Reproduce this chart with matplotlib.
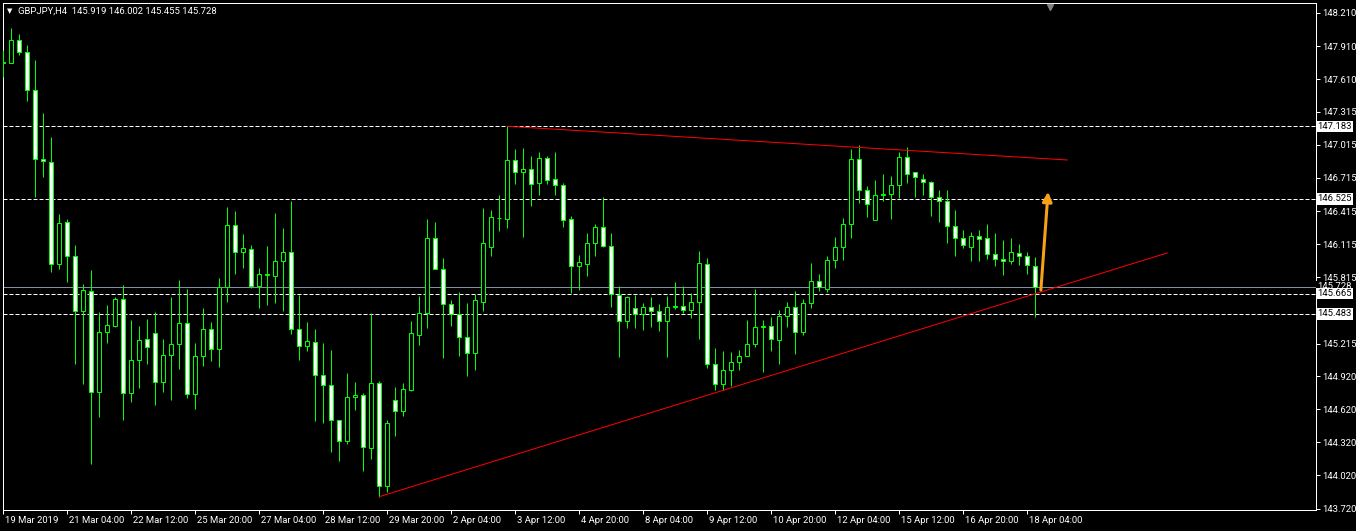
import matplotlib
matplotlib.use('Agg')
import matplotlib.pyplot as plt
import matplotlib.transforms as mtransforms

plt.rcParams['font.family'] = ['Roboto', 'DejaVu Sans']

# GBPJPY H4 candles
opens = [147.766, 147.760, 147.963, 147.854, 147.510, 146.885, 146.857, 145.940, 146.316, 146.006,
         145.507, 145.689, 144.773, 145.317, 145.377, 145.616, 144.764, 145.063, 145.254, 145.308,
         144.864, 145.109, 145.208, 145.399, 144.755, 145.100, 145.344, 145.163, 145.725, 146.287,
         146.042, 146.069, 145.739, 145.832, 145.830, 145.960, 146.042, 145.344, 145.190, 145.226,
         144.927, 144.837, 144.520, 144.329, 144.728, 144.746, 144.266, 144.855, 143.922, 144.701,
         144.601, 144.797, 145.295, 145.489, 146.169, 145.893, 145.576, 145.480, 145.272, 145.132,
         145.594, 146.093, 146.350, 146.346, 146.876, 146.767, 146.794, 146.673, 146.894, 146.703,
         146.649, 146.341, 145.915, 145.939, 146.123, 146.268, 146.096, 145.652, 145.417, 145.535,
         145.480, 145.544, 145.507, 145.417, 145.544, 145.553, 145.516, 145.589, 145.933, 145.027,
         144.846, 144.973, 145.045, 145.100, 145.208, 145.362, 145.371, 145.245, 145.462, 145.544,
         145.317, 145.580, 145.779, 145.707, 145.969, 146.087, 146.296, 146.885, 146.604, 146.332,
         146.559, 146.568, 146.649, 146.903, 146.767, 146.703, 146.676, 146.540, 146.504, 146.278,
         146.169, 146.087, 146.187, 146.169, 146.024, 145.979, 145.960, 146.033, 146.006, 145.919]
highs = [147.875, 148.074, 148.020, 147.920, 147.784, 147.304, 147.087, 146.389, 146.344, 146.108,
         145.755, 145.882, 145.501, 145.564, 145.634, 145.746, 145.428, 145.374, 145.437, 145.501,
         145.256, 145.637, 145.791, 145.709, 145.220, 145.537, 145.410, 145.809, 146.452, 146.416,
         146.208, 146.108, 145.900, 146.099, 146.398, 146.262, 146.507, 145.652, 145.410, 145.347,
         145.220, 145.157, 144.522, 144.948, 144.867, 144.764, 145.489, 144.873, 144.522, 144.821,
         144.858, 145.419, 145.646, 146.344, 146.316, 145.990, 145.607, 145.679, 145.583, 145.661,
         146.443, 146.423, 146.561, 147.183, 146.978, 146.987, 146.915, 146.951, 146.915, 146.951,
         146.670, 146.371, 146.017, 146.214, 146.296, 146.543, 146.214, 145.734, 145.643, 145.652,
         145.583, 145.634, 145.571, 145.643, 145.770, 145.734, 145.670, 146.054, 145.988, 145.172,
         145.145, 145.136, 145.154, 145.426, 145.707, 145.426, 145.453, 145.516, 145.589, 145.689,
         145.616, 145.942, 145.843, 146.006, 146.178, 146.350, 146.975, 147.011, 146.640, 146.694,
         146.749, 146.731, 146.948, 146.993, 146.767, 146.749, 146.685, 146.604, 146.604, 146.423,
         146.241, 146.223, 146.241, 146.296, 146.214, 146.151, 146.169, 146.114, 146.042, 146.002]
lows = [147.633, 147.754, 147.832, 147.416, 146.546, 146.727, 145.866, 145.888, 145.776, 145.033,
        144.851, 144.126, 144.552, 145.223, 145.368, 144.525, 144.688, 144.815, 145.033, 144.661,
        144.779, 144.706, 144.987, 144.724, 144.625, 145.014, 145.060, 145.005, 145.594, 145.848,
        145.902, 145.721, 145.540, 145.567, 145.585, 145.513, 145.299, 145.069, 145.148, 144.516,
        144.498, 144.232, 144.154, 144.305, 144.610, 144.063, 144.166, 143.827, 143.873, 144.380,
        144.561, 144.785, 145.202, 145.359, 145.891, 145.084, 145.377, 145.105, 144.924, 144.976,
        145.513, 146.011, 146.238, 146.265, 146.661, 146.181, 146.461, 146.561, 146.661, 146.561,
        146.274, 145.676, 145.703, 145.830, 146.011, 146.094, 145.549, 145.096, 145.359, 145.359,
        145.341, 145.368, 145.332, 145.096, 145.531, 145.489, 145.449, 145.259, 144.991, 144.797,
        144.792, 144.833, 144.973, 145.100, 145.181, 144.955, 145.145, 145.027, 145.362, 145.118,
        145.290, 145.535, 145.689, 145.680, 145.897, 145.975, 146.169, 146.486, 146.359, 146.332,
        146.504, 146.346, 146.531, 146.673, 146.543, 146.558, 146.368, 146.314, 146.123, 146.006,
        146.078, 145.960, 145.966, 145.979, 145.915, 145.834, 145.933, 145.924, 145.843, 145.455]
closes = [147.757, 147.963, 147.854, 147.510, 146.885, 146.866, 145.940, 146.307, 146.006, 145.507,
          145.698, 144.773, 145.317, 145.380, 145.616, 144.764, 145.063, 145.245, 145.181, 144.864,
          145.109, 145.208, 145.399, 144.755, 145.100, 145.344, 145.163, 145.725, 146.287, 146.042,
          146.078, 145.739, 145.843, 145.841, 145.960, 146.042, 145.344, 145.190, 145.235, 144.927,
          144.837, 144.520, 144.329, 144.728, 144.746, 144.275, 144.855, 143.922, 144.492, 144.601,
          144.801, 145.308, 145.489, 146.169, 145.893, 145.576, 145.480, 145.272, 145.132, 145.607,
          146.123, 146.359, 146.355, 146.876, 146.767, 146.797, 146.658, 146.894, 146.700, 146.649,
          146.337, 145.915, 145.951, 146.123, 146.268, 146.096, 145.661, 145.417, 145.634, 145.480,
          145.544, 145.507, 145.417, 145.544, 145.553, 145.516, 145.589, 145.942, 145.027, 144.846,
          144.973, 145.045, 145.100, 145.208, 145.362, 145.371, 145.254, 145.462, 145.544, 145.317,
          145.580, 145.779, 145.725, 145.969, 146.087, 146.296, 146.885, 146.604, 146.477, 146.559,
          146.568, 146.649, 146.903, 146.754, 146.721, 146.676, 146.540, 146.504, 146.278, 146.169,
          146.105, 146.187, 146.160, 146.024, 145.979, 145.960, 146.042, 146.006, 145.924, 145.728]

time_labels = ['19 Mar 2019', '21 Mar 04:00', '22 Mar 12:00', '25 Mar 20:00', '27 Mar 04:00',
               '28 Mar 12:00', '29 Mar 20:00', '2 Apr 04:00', '3 Apr 12:00', '4 Apr 20:00',
               '8 Apr 04:00', '9 Apr 12:00', '10 Apr 20:00', '12 Apr 04:00', '15 Apr 12:00',
               '16 Apr 20:00', '18 Apr 04:00']
price_ticks = [148.210, 147.910, 147.610, 147.315, 147.015, 146.715, 146.415, 146.115,
               145.815, 145.215, 144.920, 144.620, 144.320, 144.020, 143.720]
levels = [147.183, 146.525, 145.665, 145.483]
bid = 145.728

# trend lines (bar index, price)
upper_line = ([63, 133], [147.183, 146.878])
lower_line = ([47, 145.5], [143.827, 146.036])
arrow_from = (129.7, 145.70)
arrow_to = (130.6, 146.59)

GREEN = '#00ff00'
PX = 0.72  # one pixel in points

fig = plt.figure(figsize=(13.56, 5.31), dpi=100, facecolor='black')
ax = fig.add_axes([2.5 / 1356, 1 - 509.5 / 531, 1313 / 1356, 507 / 531])
ax.set_facecolor('black')

n = len(opens)
xs = list(range(n))
ax.vlines(xs, lows, highs, colors=GREEN, lw=PX, zorder=3)
bottoms = [min(o, c) for o, c in zip(opens, closes)]
heights = [abs(c - o) for o, c in zip(opens, closes)]
faces = ['black' if c > o else 'white' for o, c in zip(opens, closes)]
ax.bar(xs, heights, bottom=bottoms, width=0.5, color=faces, edgecolor=GREEN,
       linewidth=PX, zorder=4)

for lv in levels:
    ax.axhline(lv, color='white', lw=PX, ls=(0, (4, 2)), zorder=2)
ax.axhline(bid, color='#8090a0', lw=PX, zorder=2)

ax.plot(*upper_line, color='red', lw=PX, zorder=5)
ax.plot(*lower_line, color='red', lw=PX, zorder=5)
ax.annotate('', xy=arrow_to, xytext=arrow_from,
            arrowprops=dict(arrowstyle='-|>', color='#f7a01a', lw=2.2,
                            mutation_scale=14, shrinkA=0, shrinkB=0), zorder=6)

# chart shift marker
blend = mtransforms.blended_transform_factory(ax.transData, ax.transAxes)
ax.plot([130.8], [0.991], marker='v', color='#808080', ms=5, transform=blend,
        clip_on=False, zorder=7)

ax.set_xlim(-0.1, 164.03)
ax.set_ylim(143.711, 148.305)

for sp in ax.spines.values():
    sp.set_color('white')
    sp.set_linewidth(PX)

ax.yaxis.tick_right()
ax.set_yticks(price_ticks)
ax.set_yticklabels(['%.3f' % v for v in price_ticks])
ax.tick_params(axis='y', colors='white', length=3, width=PX, pad=2, labelsize=6.8)

ax.set_xticks(list(range(0, 8 * len(time_labels), 8)))
ax.set_xticklabels(time_labels)
ax.tick_params(axis='x', colors='white', length=3, width=PX, pad=2, labelsize=6.8)
shift = mtransforms.ScaledTranslation(2 / 100, 0, fig.dpi_scale_trans)
for lab in ax.get_xticklabels():
    lab.set_horizontalalignment('left')
    lab.set_transform(lab.get_transform() + shift)

# price labels on the right scale
yblend = mtransforms.blended_transform_factory(ax.transAxes, ax.transData)
ax.text(1.0015, bid, '%.3f' % bid, transform=yblend, color='white', fontsize=6.8,
        va='center', ha='left',
        bbox=dict(boxstyle='square,pad=0.12', fc='black', ec='none'), zorder=8)
for lv in levels:
    ax.text(1.0015, lv, '%.3f' % lv, transform=yblend, color='black', fontsize=6.8,
            va='center', ha='left',
            bbox=dict(boxstyle='square,pad=0.12', fc='white', ec='none'), zorder=9)

fig.text(7 / 1356, 1 - 11 / 531, '\u25bc', color='white', fontsize=5,
         va='center', ha='left', family='DejaVu Sans')
fig.text(18 / 1356, 1 - 11 / 531, 'GBPJPY,H4  %.3f %.3f %.3f %.3f'
         % (opens[-1], highs[-1], lows[-1], closes[-1]),
         color='white', fontsize=6.8, va='center', ha='left')

fig.savefig('out.png', dpi=100, facecolor='black')
